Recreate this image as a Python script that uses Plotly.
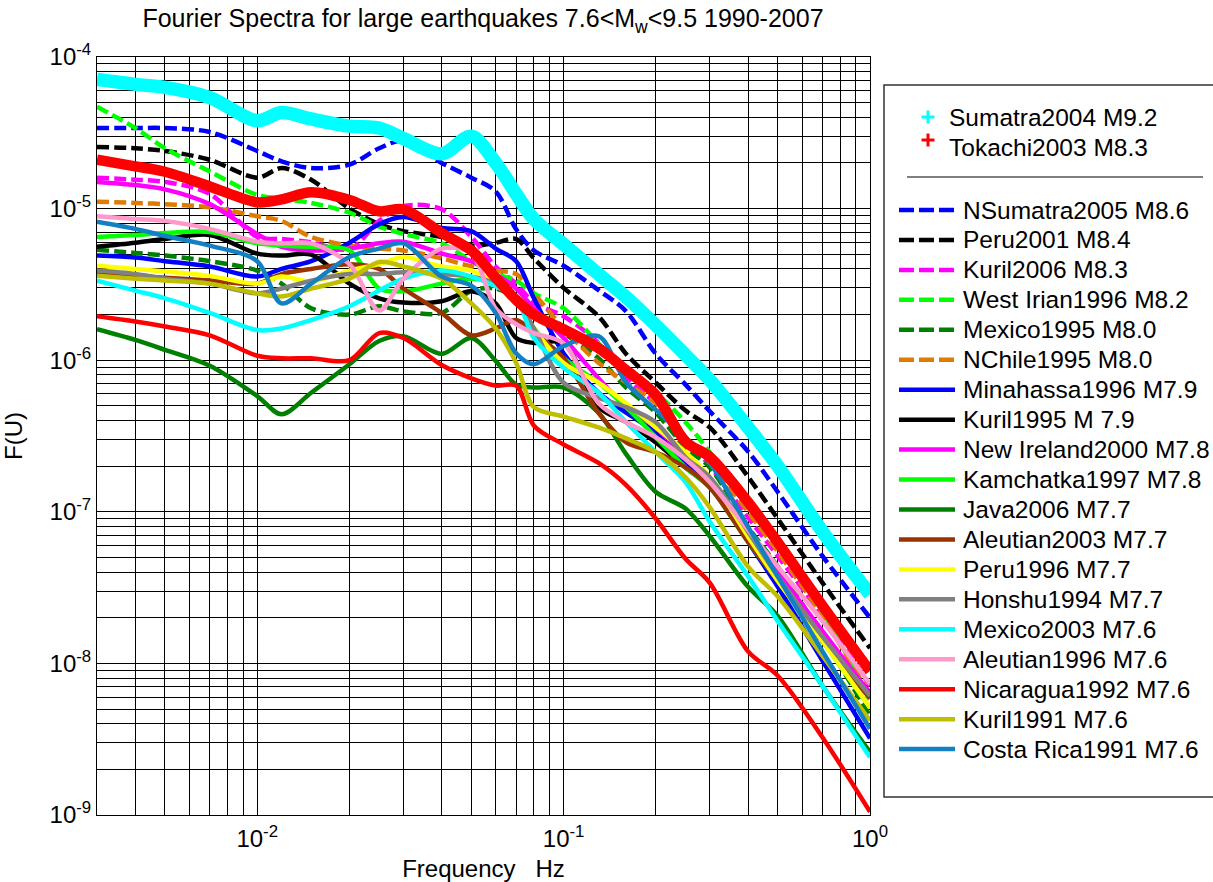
import plotly.graph_objects as go

# ---------------- data ----------------
freq = [0.003, 0.004, 0.005, 0.007, 0.01, 0.012, 0.015, 0.02, 0.025, 0.03, 0.04, 0.05,
        0.06, 0.07, 0.08, 0.1, 0.13, 0.16, 0.2, 0.25, 0.3, 0.4, 0.5, 0.7, 1.0]

sumatra2004 = [7.1e-5, 6.6e-5, 6.3e-5, 5.4e-5, 3.8e-5, 4.3e-5, 3.9e-5, 3.5e-5, 3.4e-5, 2.9e-5, 2.3e-5, 3.0e-5,
               2.0e-5, 1.25e-5, 8.5e-6, 5.8e-6, 3.7e-6, 2.6e-6, 1.7e-6, 1.08e-6, 7.4e-7, 3.6e-7, 2.0e-7, 7.4e-8, 2.85e-8]
tokachi2003 = [2.1e-5, 1.9e-5, 1.75e-5, 1.4e-5, 1.1e-5, 1.15e-5, 1.28e-5, 1.14e-5, 9.6e-6, 9.9e-6, 6.9e-6, 5.3e-6,
               3.5e-6, 2.5e-6, 2.0e-6, 1.6e-6, 1.2e-6, 8.6e-7, 5.9e-7, 2.9e-7, 2.3e-7, 1.16e-7, 6.3e-8, 2.4e-8, 8.9e-9]
nsumatra2005 = [3.4e-5, 3.4e-5, 3.4e-5, 3.2e-5, 2.4e-5, 2.05e-5, 1.85e-5, 1.95e-5, 2.5e-5, 2.8e-5, 2.0e-5, 1.6e-5,
                1.3e-5, 7.3e-6, 5.3e-6, 4.2e-6, 2.9e-6, 2.1e-6, 1.1e-6, 6.9e-7, 4.6e-7, 2.5e-7, 1.35e-7, 5.1e-8, 2.0e-8]
peru2001 = [2.55e-5, 2.5e-5, 2.4e-5, 2.1e-5, 1.6e-5, 1.85e-5, 1.55e-5, 1.0e-5, 7.9e-6, 7.1e-6, 6.5e-6, 5.7e-6,
            5.95e-6, 6.3e-6, 4.7e-6, 3.0e-6, 1.95e-6, 1.1e-6, 7.1e-7, 4.65e-7, 3.6e-7, 1.7e-7, 9.0e-8, 3.4e-8, 1.26e-8]
kuril2006 = [1.6e-5, 1.55e-5, 1.5e-5, 1.25e-5, 6.5e-6, 6.3e-6, 6.0e-6, 5.4e-6, 8.3e-6, 1.04e-5, 9.9e-6, 6.5e-6,
             4.15e-6, 3.2e-6, 2.4e-6, 1.95e-6, 1.3e-6, 7.6e-7, 5.2e-7, 3.1e-7, 2.0e-7, 9.2e-8, 5.1e-8, 2.05e-8, 7.1e-9]
westirian1996 = [4.7e-5, 3.4e-5, 2.5e-5, 1.76e-5, 1.23e-5, 1.16e-5, 1.09e-5, 9.4e-6, 7.6e-6, 6.8e-6, 5.9e-6, 4.5e-6,
                 3.7e-6, 3.35e-6, 2.76e-6, 2.2e-6, 1.29e-6, 8.2e-7, 6.1e-7, 3.9e-7, 2.47e-7, 1.07e-7, 5.9e-8, 2.2e-8, 5.7e-9]
mexico1995 = [5.35e-6, 5.1e-6, 4.9e-6, 4.5e-6, 3.9e-6, 3.2e-6, 2.2e-6, 2.0e-6, 2.27e-6, 2.1e-6, 2.05e-6, 2.88e-6,
              2.97e-6, 2.56e-6, 2.05e-6, 1.51e-6, 1.03e-6, 6.6e-7, 4.5e-7, 2.66e-7, 1.96e-7, 7.95e-8, 4.35e-8, 1.5e-8, 4.5e-9]
nchile1995 = [1.11e-5, 1.09e-5, 1.07e-5, 1.02e-5, 8.9e-6, 8.3e-6, 6.5e-6, 5.7e-6, 5.45e-6, 5.3e-6, 4.7e-6, 4.15e-6,
              3.9e-6, 3.7e-6, 2.76e-6, 1.62e-6, 9.6e-7, 7.1e-7, 5.2e-7, 3.1e-7, 2.1e-7, 1.0e-7, 5.45e-8, 2.05e-8, 6.1e-9]
minahassa1996 = [4.9e-6, 4.75e-6, 4.5e-6, 4.15e-6, 3.56e-6, 4.0e-6, 4.5e-6, 5.95e-6, 7.9e-6, 8.8e-6, 7.45e-6, 7.1e-6,
                 5.45e-6, 4.5e-6, 2.56e-6, 1.11e-6, 6.1e-7, 4.5e-7, 3.33e-7, 2.1e-7, 1.57e-7, 6.35e-8, 3.2e-8, 1.04e-8, 3.2e-9]
kuril1995 = [5.6e-6, 5.95e-6, 6.3e-6, 6.7e-6, 5.05e-6, 4.9e-6, 4.97e-6, 3.2e-6, 2.56e-6, 2.4e-6, 2.45e-6, 2.85e-6,
             2.37e-6, 1.4e-6, 1.3e-6, 1.3e-6, 4.9e-7, 3.9e-7, 2.87e-7, 1.96e-7, 1.45e-7, 6.85e-8, 3.75e-8, 1.5e-8, 6.4e-9]
newireland2000 = [1.5e-5, 1.43e-5, 1.34e-5, 1.07e-5, 6.8e-6, 5.6e-6, 5.3e-6, 5.45e-6, 5.9e-6, 6.05e-6, 5.05e-6, 4.5e-6,
                  3.7e-6, 2.97e-6, 2.2e-6, 1.4e-6, 7.6e-7, 4.9e-7, 3.6e-7, 2.29e-7, 1.57e-7, 7.4e-8, 4.0e-8, 1.63e-8, 6.3e-9]
kamchatka1997 = [6.5e-6, 6.7e-6, 6.9e-6, 7.0e-6, 5.9e-6, 5.7e-6, 5.6e-6, 5.3e-6, 2.97e-6, 2.85e-6, 3.2e-6, 3.45e-6,
                 3.2e-6, 2.56e-6, 1.62e-6, 1.03e-6, 7.1e-7, 4.9e-7, 3.1e-7, 1.96e-7, 1.45e-7, 6.35e-8, 3.5e-8, 1.4e-8, 5.1e-9]
java2006 = [1.6e-6, 1.36e-6, 1.17e-6, 9.2e-7, 5.8e-7, 4.4e-7, 6.1e-7, 9.4e-7, 1.34e-6, 1.44e-6, 1.1e-6, 1.4e-6,
            9.9e-7, 6.9e-7, 6.6e-7, 6.6e-7, 4.5e-7, 2.4e-7, 1.35e-7, 1.05e-7, 6.9e-8, 3.2e-8, 2.05e-8, 7.1e-9, 2.6e-9]
aleutian2003 = [3.7e-6, 3.6e-6, 3.5e-6, 3.35e-6, 3.2e-6, 3.7e-6, 4.0e-6, 4.3e-6, 4.0e-6, 2.97e-6, 2.05e-6, 1.46e-6,
                1.62e-6, 1.84e-6, 1.51e-6, 1.03e-6, 4.5e-7, 2.87e-7, 2.47e-7, 1.96e-7, 1.45e-7, 6.35e-8, 3.5e-8, 1.4e-8, 5.9e-9]
peru1996 = [4.2e-6, 4.0e-6, 3.85e-6, 3.6e-6, 3.2e-6, 3.56e-6, 3.3e-6, 3.9e-6, 4.3e-6, 4.8e-6, 4.15e-6, 3.9e-6,
            3.2e-6, 2.56e-6, 1.62e-6, 9.6e-7, 7.1e-7, 5.2e-7, 3.6e-7, 2.47e-7, 1.69e-7, 6.85e-8, 3.5e-8, 1.4e-8, 5.1e-9]
honshu1994 = [3.9e-6, 3.7e-6, 3.45e-6, 3.2e-6, 2.76e-6, 2.97e-6, 3.35e-6, 3.7e-6, 3.7e-6, 3.8e-6, 3.7e-6, 3.56e-6,
              3.2e-6, 2.56e-6, 1.62e-6, 7.1e-7, 5.65e-7, 4.9e-7, 3.9e-7, 2.29e-7, 1.69e-7, 7.4e-8, 3.75e-8, 1.5e-8, 6.1e-9]
mexico2003 = [3.35e-6, 2.88e-6, 2.56e-6, 2.05e-6, 1.58e-6, 1.62e-6, 1.84e-6, 2.27e-6, 2.88e-6, 3.45e-6, 3.9e-6, 3.56e-6,
              3.07e-6, 2.56e-6, 1.4e-6, 8.9e-7, 6.1e-7, 3.9e-7, 2.47e-7, 1.57e-7, 8.6e-8, 3.75e-8, 1.9e-8, 7.1e-9, 2.4e-9]
aleutian1996 = [8.9e-6, 8.55e-6, 8.3e-6, 7.35e-6, 6.05e-6, 5.9e-6, 5.9e-6, 4.3e-6, 2.13e-6, 3.45e-6, 5.45e-6, 5.05e-6,
                2.2e-6, 1.73e-6, 1.51e-6, 1.29e-6, 5.2e-7, 3.9e-7, 3.1e-7, 2.22e-7, 1.57e-7, 7.6e-8, 4.35e-8, 1.9e-8, 7.3e-9]
nicaragua1992 = [1.95e-6, 1.8e-6, 1.67e-6, 1.46e-6, 1.07e-6, 1.03e-6, 1.03e-6, 1.0e-6, 1.51e-6, 1.4e-6, 9.3e-7, 7.6e-7,
                 6.8e-7, 6.8e-7, 3.7e-7, 2.78e-7, 2.1e-7, 1.5e-7, 9.0e-8, 4.9e-8, 3.4e-8, 1.2e-8, 8.3e-9, 3.25e-9, 1.05e-9]
kuril1991 = [3.6e-6, 3.45e-6, 3.35e-6, 3.2e-6, 2.76e-6, 2.63e-6, 2.97e-6, 3.45e-6, 4.45e-6, 4.15e-6, 3.45e-6, 2.37e-6,
             1.62e-6, 9.6e-7, 4.9e-7, 4.25e-7, 3.6e-7, 3.05e-7, 2.47e-7, 1.69e-7, 1.07e-7, 4.35e-8, 2.76e-8, 1.12e-8, 4.2e-9]
costarica1991 = [8.2e-6, 7.35e-6, 6.6e-6, 5.7e-6, 4.5e-6, 2.37e-6, 3.2e-6, 4.8e-6, 5.45e-6, 5.9e-6, 3.56e-6, 3.1e-6,
                 2.05e-6, 1.11e-6, 9.4e-7, 1.24e-6, 1.44e-6, 7.1e-7, 4.7e-7, 3.1e-7, 2.1e-7, 7.95e-8, 3.75e-8, 1.2e-8, 3.7e-9]

big_names = ["Sumatra2004 M9.2", "Tokachi2003 M8.3"]
big_series = [sumatra2004, tokachi2003]
big_colors = ["#00FFFF", "#FF0000"]

names = ["NSumatra2005 M8.6", "Peru2001 M8.4", "Kuril2006 M8.3", "West Irian1996 M8.2", "Mexico1995 M8.0",
         "NChile1995 M8.0", "Minahassa1996 M7.9", "Kuril1995 M 7.9", "New Ireland2000 M7.8", "Kamchatka1997 M7.8",
         "Java2006 M7.7", "Aleutian2003 M7.7", "Peru1996 M7.7", "Honshu1994 M7.7", "Mexico2003 M7.6",
         "Aleutian1996 M7.6", "Nicaragua1992 M7.6", "Kuril1991 M7.6", "Costa Rica1991 M7.6"]
series = [nsumatra2005, peru2001, kuril2006, westirian1996, mexico1995, nchile1995, minahassa1996, kuril1995,
          newireland2000, kamchatka1997, java2006, aleutian2003, peru1996, honshu1994, mexico2003, aleutian1996,
          nicaragua1992, kuril1991, costarica1991]
colors = ["#0000FF", "#000000", "#FF00FF", "#00FF00", "#008000", "#DE7B00", "#0000FF", "#000000", "#FF00FF",
          "#00FF00", "#008000", "#993300", "#FFFF00", "#808080", "#00FFFF", "#FF99CC", "#FF0000", "#BFBF00", "#1480C4"]
dashed = [True] * 6 + [False] * 13

x_major = [0.01, 0.1, 1.0]
x_major_text = ["10<sup>-2</sup>", "10<sup>-1</sup>", "10<sup>0</sup>"]
y_major = [1e-9, 1e-8, 1e-7, 1e-6, 1e-5, 1e-4]
y_major_text = ["10<sup>-9</sup>", "10<sup>-8</sup>", "10<sup>-7</sup>",
                "10<sup>-6</sup>", "10<sup>-5</sup>", "10<sup>-4</sup>"]

# ---------------- geometry (reference-picture pixels) ----------------
W, H = 1213, 882
L, R, T, B = 97, 870, 57, 815
DASH = "12px,5px"
FONT = "Liberation Sans, Arial, Helvetica, sans-serif"
LEG_FONT = 24.5


def px(x):
    return (x - L) / (R - L)


def py(y):
    return (B - y) / (B - T)


fig = go.Figure()
for name, vals, col, d in zip(names, series, colors, dashed):
    fig.add_trace(go.Scatter(
        x=freq, y=vals, mode="lines", name=name, showlegend=False,
        line=dict(color=col, width=4.5, dash=DASH if d else "solid", shape="spline", smoothing=0.9)))
for name, vals, col, w in zip(big_names[::-1], big_series[::-1], big_colors[::-1], [10.5, 13.5]):
    fig.add_trace(go.Scatter(
        x=freq, y=vals, mode="lines", name=name, showlegend=False,
        line=dict(color=col, width=w, shape="spline", smoothing=0.9)))

# minor grid lines at the 2..9 multiples
x_minor = [round(m * 10 ** e, 6) for e in (-3, -2, -1) for m in range(2, 10) if m * 10 ** e >= 0.003]
y_minor = [float(f"{m}e{e}") for e in range(-9, -4) for m in range(2, 10)]

axis_common = dict(type="log", showgrid=True, gridcolor="#000", gridwidth=1, showline=True, mirror=True,
                   linecolor="#000", linewidth=1, ticks="", zeroline=False, tickmode="array",
                   tickfont=dict(size=24, color="#000", family=FONT))

fig.update_layout(
    width=W, height=H,
    margin=dict(l=L, r=W - R, t=T, b=H - B, autoexpand=False),
    paper_bgcolor="#FFFFFF", plot_bgcolor="#FFFFFF",
    font=dict(family=FONT, size=24, color="#000"),
    showlegend=False,
    title=dict(text="Fourier Spectra for large earthquakes 7.6&lt;M<sub>w</sub>&lt;9.5 1990-2007",
               x=px(483), xref="paper", xanchor="center", y=1 - 18.5 / H, yref="container",
               yanchor="middle", font=dict(size=25, color="#000", family=FONT)),
    xaxis=dict(range=[-2.5229, 0], tickvals=x_major, ticktext=x_major_text, ticklabelstandoff=2,
               minor=dict(tickmode="array", tickvals=x_minor, showgrid=True, gridcolor="#000", gridwidth=1,
                          ticks=""),
               title=dict(text="Frequency   Hz", standoff=9, font=dict(size=24)), **axis_common),
    yaxis=dict(range=[-9, -4], tickvals=y_major, ticktext=y_major_text,
               minor=dict(tickmode="array", tickvals=y_minor, showgrid=True, gridcolor="#000", gridwidth=1,
                          ticks=""),
               title=dict(text="F(U)", standoff=22, font=dict(size=24)), **axis_common),
)

# ---------------- legend box ----------------
shapes = [dict(type="rect", xref="paper", yref="paper", x0=px(884), x1=px(1240), y0=py(797), y1=py(85),
               line=dict(color="#333", width=1.5), fillcolor="rgba(0,0,0,0)", layer="above"),
          dict(type="line", xref="paper", yref="paper", x0=px(907), x1=px(1203), y0=py(177), y1=py(177),
               line=dict(color="#000", width=1.2))]
annotations = []

big_marker_y = [117, 140]
big_text_y = [118, 148]
for name, col, my, ty in zip(big_names, big_colors, big_marker_y, big_text_y):
    shapes.append(dict(type="line", xref="paper", yref="paper", x0=px(921.5), x1=px(934.5), y0=py(my), y1=py(my),
                       line=dict(color=col, width=3)))
    shapes.append(dict(type="line", xref="paper", yref="paper", x0=px(928), x1=px(928), y0=py(my - 6.5),
                       y1=py(my + 6.5), line=dict(color=col, width=3)))
    annotations.append(dict(text=name, xref="paper", yref="paper", x=px(947), y=py(ty), xanchor="left",
                            yanchor="middle", showarrow=False, font=dict(size=LEG_FONT, color="#000", family=FONT)))

for i, (name, col, d) in enumerate(zip(names, colors, dashed)):
    yy = 210 + 29.95 * i
    shapes.append(dict(type="line", xref="paper", yref="paper", x0=px(899), x1=px(955), y0=py(yy), y1=py(yy),
                       line=dict(color=col, width=4.5, dash="15px,5px" if d else "solid")))
    annotations.append(dict(text=name, xref="paper", yref="paper", x=px(961), y=py(yy), xanchor="left",
                            yanchor="middle", showarrow=False, font=dict(size=LEG_FONT, color="#000", family=FONT)))

fig.update_layout(shapes=shapes, annotations=annotations)
# place the figure at the page's top-left corner (no default body margin), no mode bar
fig.write_html("out.html", config={"displayModeBar": False},
               post_script="document.body.style.margin='0px';document.body.style.overflow='hidden';")
